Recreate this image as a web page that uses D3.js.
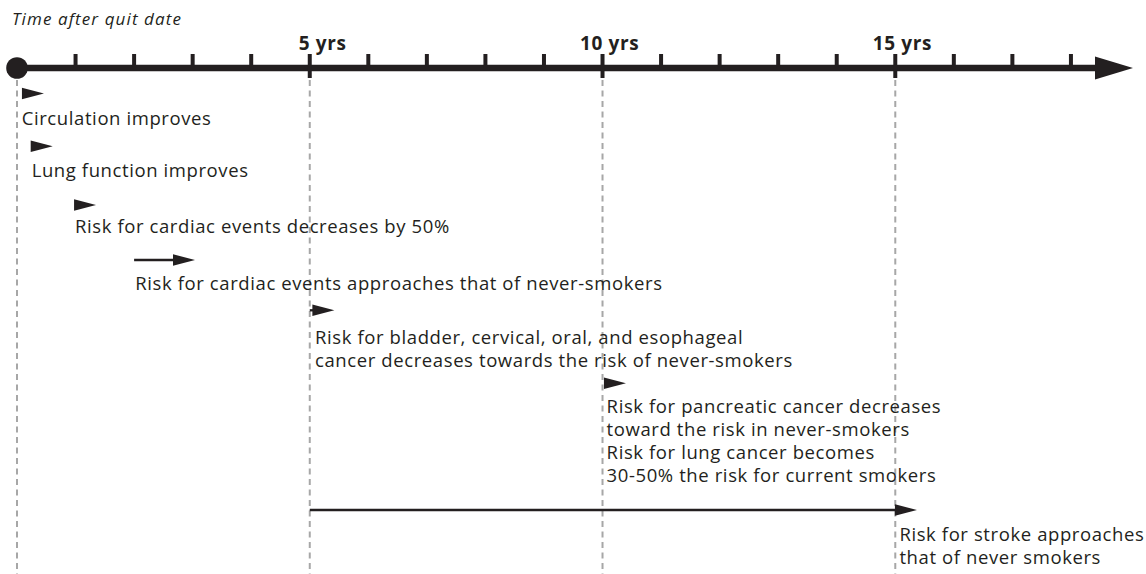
<!DOCTYPE html>
<html>
<head>
<meta charset="utf-8">
<script src="https://cdn.jsdelivr.net/npm/d3@7"></script>
<style>
  html, body { margin: 0; padding: 0; background: #fff; }
  svg { display: block; }
  text { font-family: "Open Sans", "Noto Sans", sans-serif; fill: #231f20; }
</style>
</head>
<body>
<svg id="chart" width="1146" height="574"></svg>
<script>
// ---------- data ----------
const title = "Time after quit date";
const axisEndYear = 19.06;                 // arrow tip of the time axis
const minorTickYears = d3.range(1, 19);    // 1..18
const majorYears = [5, 10, 15];
const majorLabels = ["5 yrs", "10 yrs", "15 yrs"];
const guideYears = [0, 5, 10, 15];

const eventLabels = [
  ["Circulation improves"],
  ["Lung function improves"],
  ["Risk for cardiac events decreases by 50%"],
  ["Risk for cardiac events approaches that of never-smokers"],
  ["Risk for bladder, cervical, oral, and esophageal", "cancer decreases towards the risk of never-smokers"],
  ["Risk for pancreatic cancer decreases", "toward the risk in never-smokers", "Risk for lung cancer becomes", "30-50% the risk for current smokers"],
  ["Risk for stroke approaches", "that of never smokers"]
];
const eventStart = [0.08, 0.23, 0.97, 2.0, 5.0, 10.04, 5.0];
const eventTip   = [0.46, 0.61, 1.35, 3.04, 5.42, 10.40, 15.37];
const labelYear  = [0.08, 0.25, 0.99, 2.02, 5.09, 10.07, 15.07];

// ---------- layout ----------
const W = 1146, H = 574;
const axisY = 68;
const rowArrowY = [93.5, 146.3, 205, 260, 310.3, 383.3, 510];
const rowTextY  = [124.8, 176.5, 233, 289.5, 344, 412.5, 541];
const lineGap = 23.2;
const headW = 22, headH = 11.5;
const ink = "#231f20";

const svg = d3.select("#chart");
const x = d3.scaleLinear().domain([0, axisEndYear]).range([17, 1133]);

// guide dashed lines
svg.append("g").selectAll("line").data(guideYears).join("line")
  .attr("x1", d => x(d)).attr("x2", d => x(d))
  .attr("y1", 80).attr("y2", H)
  .attr("stroke", "#a7a7a7").attr("stroke-width", 2)
  .attr("stroke-dasharray", "6,4.5");

// title
svg.append("text").attr("x", 12).attr("y", 25)
  .attr("font-size", 17).attr("letter-spacing", 1.1)
  .attr("font-style", "italic").text(title);

// axis line
const axisHeadBase = x(axisEndYear) - 38;
svg.append("line")
  .attr("x1", x(0)).attr("x2", axisHeadBase + 2)
  .attr("y1", axisY).attr("y2", axisY)
  .attr("stroke", ink).attr("stroke-width", 6.5);
svg.append("path")
  .attr("d", `M${axisHeadBase},${axisY - 11.5}L${x(axisEndYear)},${axisY}L${axisHeadBase},${axisY + 11.5}Z`)
  .attr("fill", ink);

// ticks
svg.append("g").selectAll("line").data(minorTickYears).join("line")
  .attr("x1", d => x(d)).attr("x2", d => x(d))
  .attr("y1", 54)
  .attr("y2", d => majorYears.includes(d) ? 78 : axisY)
  .attr("stroke", ink).attr("stroke-width", 4);

// origin circle
svg.append("circle").attr("cx", x(0)).attr("cy", axisY).attr("r", 10.8).attr("fill", ink);

// major labels
const ml = svg.append("g").selectAll("text").data(majorYears).join("text")
  .attr("y", 50).attr("font-size", 19).attr("letter-spacing", 0.6).attr("font-weight", "bold");
ml.each(function(d, i) {
  const t = d3.select(this);
  const parts = majorLabels[i].split(" ");
  const num = t.append("tspan").text(parts[0]);
  t.append("tspan").text(" " + parts.slice(1).join(" "));
  const w = num.node().getComputedTextLength();
  t.attr("x", x(d) - w + 0.5);
});

// events
const ev = svg.append("g").selectAll("g").data(eventLabels).join("g");
ev.each(function(lines, i) {
  const g = d3.select(this);
  const y = rowArrowY[i];
  const xs = x(eventStart[i]), xt = x(eventTip[i]);
  const hb = xt - headW;
  if (hb - xs > 1) {
    g.append("line").attr("x1", xs).attr("x2", hb + 2)
      .attr("y1", y).attr("y2", y)
      .attr("stroke", ink).attr("stroke-width", 2.3);
  }
  g.append("path")
    .attr("d", `M${hb},${y - headH / 2}L${xt},${y}L${hb},${y + headH / 2}Z`)
    .attr("fill", ink);
  const tx = g.append("text").attr("font-size", 18.5).attr("letter-spacing", 0.6);
  lines.forEach((ln, k) => {
    tx.append("tspan").attr("x", x(labelYear[i])).attr("y", rowTextY[i] + k * lineGap).text(ln);
  });
});
</script>
</body>
</html>
